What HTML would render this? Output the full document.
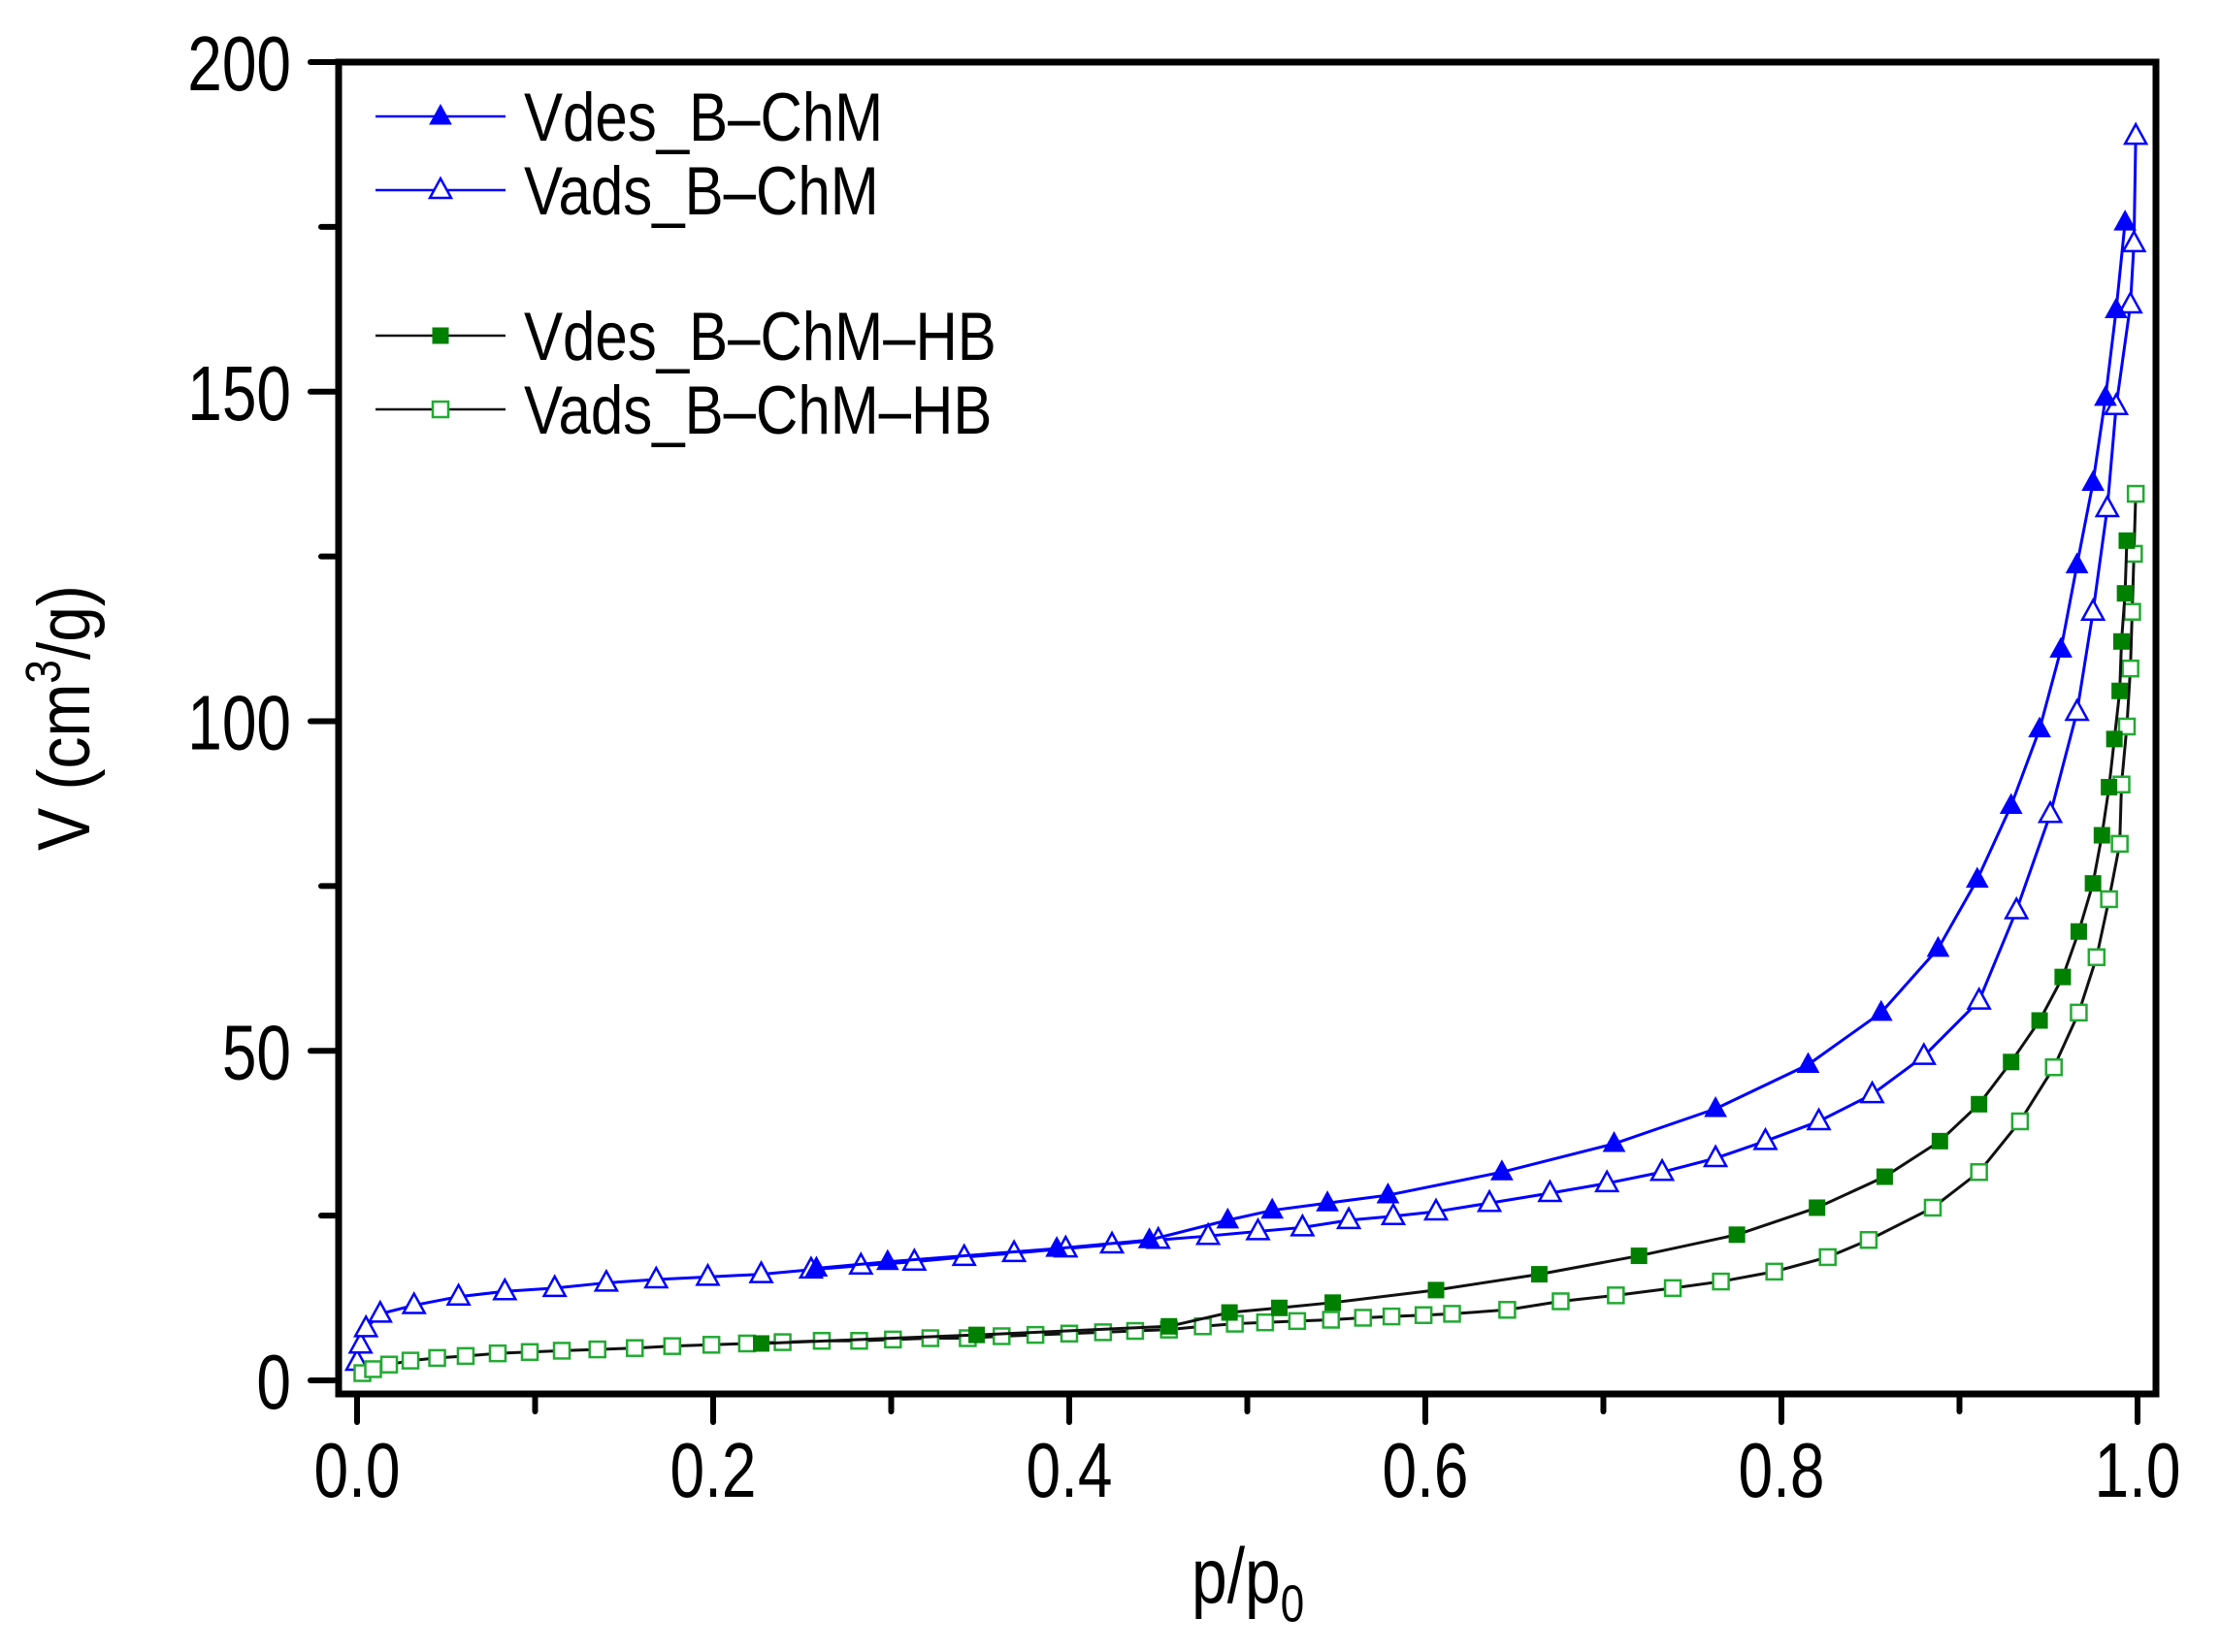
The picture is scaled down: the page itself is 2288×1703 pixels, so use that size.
<!DOCTYPE html>
<html><head><meta charset="utf-8"><style>
html,body{margin:0;padding:0;background:#fff;}
svg{display:block;font-family:"Liberation Sans",Arial,sans-serif;}
</style></head><body>
<svg id="chart" width="2288" height="1703" viewBox="0 0 2288 1703">
<g id="axes"></g>
<g id="series"></g>
<rect x="349" y="64" width="1873" height="1373" fill="none" stroke="#000" stroke-width="7"/>
<g id="legend"></g>
<text transform="translate(1228,1652) scale(1,1.22)" font-size="66">p/p<tspan font-size="44" dy="16">0</tspan></text>
<text transform="translate(92,740) rotate(-90) scale(1,1.15)" text-anchor="middle" font-size="66">V (cm<tspan font-size="44" dy="-26">3</tspan><tspan dy="26">/g)</tspan></text>
</svg>
<script>
const xTicks=[0,0.2,0.4,0.6,0.8,1.0];
const xTickLabels=["0.0","0.2","0.4","0.6","0.8","1.0"];
const yTicks=[0,50,100,150,200];
const yTickLabels=["0","50","100","150","200"];
const seriesNames=["Vdes_B\u2013ChM","Vads_B\u2013ChM","Vdes_B\u2013ChM\u2013HB","Vads_B\u2013ChM\u2013HB"];
const desChM_p=[.993,.988,.982,.975,.966,.957,.945,.929,.910,.888,.856,.815,.763,.706,.643,.579,.545,.514,.489,.445,.393,.298,.258];
const desChM_v=[175.7,162.4,149.1,136.2,123.7,110.9,98.8,87.2,76.0,65.5,55.8,47.9,41.2,35.9,31.6,28.1,26.9,25.8,24.3,21.3,20.0,18.0,17.0];
const adsChM_p=[0,.002,.005,.013,.032,.057,.083,.111,.140,.168,.197,.227,.255,.283,.313,.341,.369,.398,.424,.450,.478,.506,.531,.557,.582,.606,.636,.670,.702,.733,.763,.791,.821,.851,.880,.911,.932,.951,.966,.975,.983,.988,.996,.998,.999];
const adsChM_v=[2.8,5.4,7.9,10.1,11.4,12.7,13.5,14.0,14.8,15.3,15.7,16.1,16.8,17.4,18.0,18.7,19.3,20.0,20.6,21.3,21.9,22.6,23.2,24.3,24.9,25.6,26.9,28.4,29.9,31.6,33.7,36.3,39.3,43.4,49.2,57.6,71.3,85.9,101.4,116.6,132.3,147.8,163.2,172.5,188.8];
const desHB_p=[.994,.993,.991,.990,.987,.984,.980,.975,.967,.958,.945,.929,.911,.889,.858,.820,.775,.720,.664,.606,.548,.518,.490,.456,.348,.227];
const desHB_v=[127.4,119.4,112.1,104.6,97.3,90.0,82.7,75.4,68.1,61.2,54.6,48.3,41.9,36.3,30.9,26.2,22.1,18.9,16.1,13.7,11.8,11.0,10.3,8.2,6.9,5.6];
const adsHB_p=[.003,.009,.018,.030,.045,.061,.079,.097,.115,.135,.156,.177,.199,.219,.239,.261,.282,.301,.322,.343,.362,.381,.400,.419,.437,.456,.475,.493,.510,.528,.547,.565,.581,.599,.615,.646,.676,.707,.739,.766,.796,.826,.849,.885,.911,.934,.953,.967,.977,.984,.990,.991,.994,.996,.997,.998,.999];
const adsHB_v=[1.1,1.7,2.4,3.0,3.4,3.7,4.1,4.3,4.5,4.7,4.9,5.2,5.4,5.6,5.8,6.0,6.0,6.2,6.4,6.4,6.7,6.9,7.1,7.3,7.5,7.7,8.2,8.6,8.8,9.0,9.2,9.5,9.7,9.9,10.1,10.7,12.0,12.9,14.0,15.0,16.5,18.7,21.3,26.2,31.6,39.3,47.5,55.8,64.2,73.0,81.4,90.4,99.2,108.0,116.6,125.4,134.5];

const NS="http://www.w3.org/2000/svg";
const X=p=>368+p*(2203-368);
const Y=v=>1423-v*(1423-64)/200;
function mk(tag,attrs,parent){const e=document.createElementNS(NS,tag);for(const k in attrs)e.setAttribute(k,attrs[k]);parent.appendChild(e);return e;}
const axes=document.getElementById('axes');
for(let i=0;i<=10;i++){const p=i/10;const major=i%2===0;
 const t=mk('line',{x1:X(p),x2:X(p),y1:1437,y2:major?1466:1455,stroke:'#000','stroke-width':6,'stroke-linecap':'round'},axes);
 
 }
xTicks.forEach((p,i)=>{const t=mk('text',{transform:`translate(${X(p)},1543) scale(1,1.25)`,'text-anchor':'middle','font-size':64},axes);t.textContent=xTickLabels[i];
 
 });
for(let i=0;i<=8;i++){const v=i*25;const major=i%2===0;
 const t=mk('line',{x1:major?320:331,x2:349,y1:Y(v),y2:Y(v),stroke:'#000','stroke-width':6,'stroke-linecap':'round'},axes);
 
 }
yTicks.forEach((v,i)=>{const t=mk('text',{transform:`translate(300,${Y(v)+29}) scale(1,1.25)`,'text-anchor':'end','font-size':64},axes);t.textContent=yTickLabels[i];
 
 });

function tri(g,x,y,filled,color){const s=11;
 return mk('polygon',{points:`${x-s},${y+8} ${x+s},${y+8} ${x},${y-12}`,fill:filled?color:'#fff',stroke:color,'stroke-width':filled?1:2.5},g);}
function sq(g,x,y,filled,color){const s=8;
 return mk('rect',{x:x-s,y:y-s,width:2*s,height:2*s,fill:filled?color:'#fff',stroke:color,'stroke-width':filled?1:2.5},g);}
const defs=[
 {p:adsChM_p,v:adsChM_v,line:'#0000ff',col:'#0000ff',shape:tri,filled:false,name:'series-vads-b-chm'},
 {p:desChM_p,v:desChM_v,line:'#0000ff',col:'#0000ff',shape:tri,filled:true,name:'series-vdes-b-chm'},
 {p:adsHB_p,v:adsHB_v,line:'#111',col:'#22aa33',shape:sq,filled:false,name:'series-vads-b-chm-hb'},
 {p:desHB_p,v:desHB_v,line:'#111',col:'#008000',shape:sq,filled:true,name:'series-vdes-b-chm-hb'}];
const sg=document.getElementById('series');
defs.forEach(d=>{const g=mk('g',{},sg);
 
 
 const pts=d.p.map((p,i)=>X(p)+','+Y(d.v[i])).join(' ');
 const l=mk('polyline',{points:pts,fill:'none',stroke:d.line,'stroke-width':3},g);
 
 
 d.p.forEach((p,i)=>{const m=d.shape(g,X(p),Y(d.v[i]),d.filled,d.col);
  
  });
});
const lg=document.getElementById('legend');
const legRows=[{y:120,line:'#0000ff',col:'#0000ff',shape:tri,filled:true},{y:196,line:'#0000ff',col:'#0000ff',shape:tri,filled:false},
 {y:346,line:'#111',col:'#008000',shape:sq,filled:true},{y:422,line:'#111',col:'#22aa33',shape:sq,filled:false}];
legRows.forEach((r,i)=>{const g=mk('g',{},lg);
 
 
 mk('line',{x1:387,x2:521,y1:r.y,y2:r.y,stroke:r.line,'stroke-width':2.5},g);
 r.shape(g,454,r.y,r.filled,r.col);
 const t=mk('text',{transform:`translate(540,${r.y+25}) scale(1,1.18)`,'font-size':60},g);t.textContent=seriesNames[i];
 
 });
</script>
</body></html>
